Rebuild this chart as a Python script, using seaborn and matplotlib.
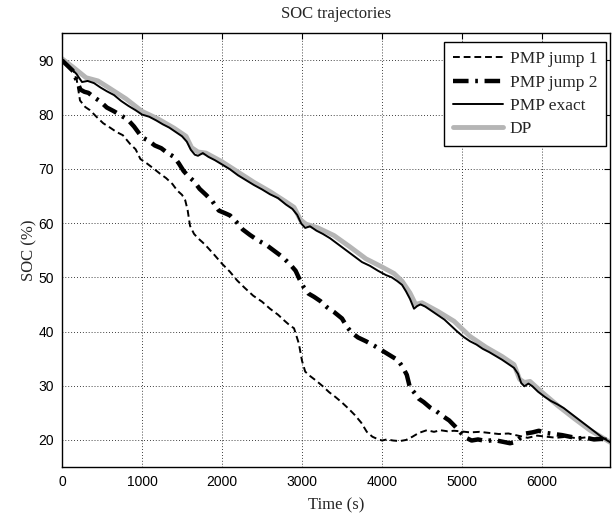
import numpy as np
import pandas as pd
import matplotlib
matplotlib.use("Agg")
import matplotlib.pyplot as plt
import seaborn as sns

# SOC trajectories
t_exact = [0, 60, 120, 180, 250, 320, 400, 480, 560, 650,
           740, 830, 920, 1000, 1090, 1180, 1260, 1340, 1420, 1500,
           1560, 1610, 1660, 1700, 1760, 1830, 1910, 2000, 2100, 2200,
           2300, 2400, 2500, 2600, 2700, 2800, 2880, 2940, 2990, 3040,
           3100, 3180, 3260, 3350, 3450, 3550, 3650, 3750, 3850, 3950,
           4050, 4120, 4190, 4250, 4300, 4350, 4400, 4440, 4480, 4540,
           4620, 4700, 4780, 4860, 4940, 5020, 5100, 5180, 5260, 5340,
           5420, 5500, 5580, 5650, 5700, 5740, 5780, 5830, 5880, 5950,
           6030, 6110, 6190, 6270, 6350, 6430, 6510, 6590, 6670, 6750,
           6850]
soc_exact = [90, 89.2, 88.4, 87.5, 86.0, 86.2, 85.8, 85.0, 84.3, 83.6,
             82.5, 81.6, 80.8, 80.0, 79.6, 78.9, 78.2, 77.6, 76.8, 76.0,
             75.0, 73.5, 72.6, 72.4, 72.9, 72.2, 71.6, 70.8, 69.9, 68.8,
             67.9, 67.0, 66.2, 65.3, 64.6, 63.4, 62.6, 61.5, 59.9, 59.1,
             59.4, 58.6, 58.0, 57.2, 56.1, 55.0, 53.9, 52.8, 52.1, 51.2,
             50.4, 50.0, 49.3, 48.6, 47.4, 46.0, 44.2, 44.7, 45.0, 44.6,
             43.8, 43.0, 42.2, 41.1, 40.0, 39.0, 38.2, 37.6, 36.8, 36.2,
             35.5, 34.8, 34.0, 33.3, 32.2, 30.5, 29.9, 30.4, 29.9, 28.9,
             28.0, 27.2, 26.6, 25.9, 25.0, 24.1, 23.2, 22.3, 21.4, 20.5,
             19.6]

t_dp = [0, 150, 300, 450, 600, 800, 1000, 1200, 1400, 1550,
        1620, 1700, 1800, 2000, 2200, 2400, 2600, 2800, 2900, 2980,
        3050, 3200, 3400, 3600, 3800, 4000, 4150, 4250, 4350, 4420,
        4500, 4700, 4900, 5100, 5300, 5500, 5650, 5720, 5780, 5850,
        6000, 6200, 6400, 6600, 6850]
soc_dp = [90.3, 88.6, 86.8, 86.2, 84.8, 82.9, 80.6, 79.2, 77.5, 76.0,
          73.9, 73.1, 72.9, 71.3, 69.4, 67.5, 65.8, 63.9, 62.9, 60.6,
          59.8, 59.1, 57.7, 55.6, 53.4, 51.9, 50.7, 49.3, 47.1, 45.0,
          45.3, 43.7, 41.9, 39.1, 37.1, 35.4, 33.9, 31.2, 30.6, 30.8,
          28.8, 26.3, 24.0, 21.8, 19.6]

t_jump2 = [0, 70, 140, 190, 230, 280, 330, 400, 480, 560,
           650, 740, 820, 900, 1000, 1080, 1160, 1240, 1320, 1400,
           1460, 1520, 1580, 1650, 1720, 1800, 1880, 1960, 2040, 2100,
           2180, 2260, 2350, 2450, 2550, 2650, 2750, 2850, 2920, 2970,
           3020, 3080, 3150, 3230, 3310, 3400, 3500, 3560, 3620, 3700,
           3800, 3900, 4000, 4100, 4200, 4260, 4310, 4350, 4400, 4460,
           4520, 4600, 4680, 4760, 4840, 4920, 4980, 5050, 5120, 5200,
           5300, 5400, 5500, 5600, 5660, 5720, 5800, 5880, 5960, 6050,
           6150, 6250, 6350, 6450, 6550, 6650, 6750, 6850]
soc_jump2 = [90, 89.0, 88.0, 86.0, 84.6, 84.2, 84.0, 83.2, 82.4, 81.3,
             80.6, 79.8, 79.1, 77.8, 75.8, 75.2, 74.3, 73.8, 72.9, 72.2,
             71.0, 69.6, 68.6, 67.7, 66.3, 65.2, 64.0, 62.3, 61.8, 61.4,
             60.2, 58.8, 57.8, 56.8, 56.0, 54.9, 53.8, 52.4, 51.2, 49.6,
             48.2, 47.0, 46.4, 45.6, 44.5, 43.6, 42.4, 40.9, 39.8, 38.9,
             38.2, 37.4, 36.5, 35.6, 34.7, 33.4, 32.0, 29.6, 28.8, 27.6,
             27.0, 26.0, 25.3, 24.4, 23.6, 22.4, 21.4, 20.4, 19.9, 20.1,
             19.8, 20.0, 19.7, 19.4, 19.6, 20.3, 21.2, 21.4, 21.7, 21.3,
             21.1, 20.9, 20.6, 20.3, 20.4, 20.1, 20.2, 19.8]

t_jump1 = [0, 70, 140, 185, 225, 290, 350, 430, 515, 600,
           680, 760, 850, 920, 980, 1060, 1140, 1225, 1300, 1380,
           1440, 1500, 1540, 1570, 1600, 1650, 1700, 1760, 1820, 1900,
           2000, 2100, 2190, 2280, 2390, 2500, 2600, 2700, 2780, 2850,
           2900, 2930, 2960, 3000, 3040, 3100, 3180, 3260, 3340, 3420,
           3500, 3580, 3660, 3740, 3810, 3880, 3940, 4000, 4060, 4140,
           4220, 4300, 4380, 4460, 4560, 4650, 4730, 4820, 4900, 4980,
           5100, 5220, 5340, 5460, 5580, 5700, 5820, 5940, 6060, 6180,
           6310, 6440, 6560, 6680, 6850]
soc_jump1 = [90, 89.0, 88.2, 86.3, 82.6, 81.4, 80.8, 79.6, 78.4, 77.6,
             76.8, 76.2, 74.6, 73.6, 71.8, 71.0, 70.1, 69.1, 68.3, 67.2,
             66.0, 65.2, 64.2, 62.4, 59.5, 58.0, 57.2, 56.4, 55.5, 54.2,
             52.5, 51.0, 49.4, 48.1, 46.6, 45.5, 44.2, 43.1, 42.0, 41.1,
             40.6, 39.2, 37.8, 34.6, 32.6, 31.8, 30.9, 29.9, 28.8, 27.9,
             26.9, 25.8, 24.6, 23.2, 21.5, 20.6, 20.2, 19.9, 20.1, 19.9,
             19.8, 20.0, 20.6, 21.3, 21.8, 21.5, 21.8, 21.6, 21.7, 21.6,
             21.4, 21.5, 21.3, 21.1, 21.2, 20.8, 20.4, 20.8, 20.6, 20.4,
             20.6, 20.3, 20.5, 20.2, 20.3]

x_ticks = [0, 1000, 2000, 3000, 4000, 5000, 6000]
y_ticks = [20, 30, 40, 50, 60, 70, 80, 90]

sns.set_style("white")
plt.rcParams['font.family'] = ['Liberation Sans', 'DejaVu Sans']
serif = ['Liberation Serif', 'DejaVu Serif']

fig = plt.figure(figsize=(6.14, 5.19), dpi=100)
ax = fig.add_axes([0.101, 0.100, 0.8925, 0.836])

# DP underneath, then the PMP curves
sns.lineplot(x=t_dp, y=soc_dp, ax=ax, color='#b5b5b5', linewidth=3.5, label='DP', zorder=2)
sns.lineplot(x=t_jump1, y=soc_jump1, ax=ax, color='black', linewidth=1.4,
             linestyle=(0, (3.5, 2)), label='PMP jump 1', zorder=3)
sns.lineplot(x=t_jump2, y=soc_jump2, ax=ax, color='black', linewidth=3.2,
             linestyle=(0, (3.5, 1.5, 0.6, 1.5)), label='PMP jump 2', zorder=3)
sns.lineplot(x=t_exact, y=soc_exact, ax=ax, color='black', linewidth=1.4,
             label='PMP exact', zorder=4)

ax.set_xlim(0, 6850)
ax.set_ylim(15, 95)
ax.set_xticks(x_ticks)
ax.set_yticks(y_ticks)
ax.tick_params(direction='in', length=4, width=0.8, top=True, right=True,
               labelsize=10, colors='black', pad=6)
ax.grid(True, color='black', linestyle=(0, (1, 2.5)), linewidth=0.6)
for sp in ax.spines.values():
    sp.set_visible(True)
    sp.set_color('black')
    sp.set_linewidth(1.0)

ax.set_title('SOC trajectories', family=serif, fontsize=12, pad=11)
ax.set_xlabel('Time (s)', family=serif, fontsize=12, labelpad=6)
ax.set_ylabel('SOC (%)', family=serif, fontsize=12, labelpad=0.5)

handles, labels = ax.get_legend_handles_labels()
order = [labels.index(n) for n in ['PMP jump 1', 'PMP jump 2', 'PMP exact', 'DP']]
leg = ax.legend([handles[i] for i in order], [labels[i] for i in order],
                loc='upper right', bbox_to_anchor=(0.9927, 0.979),
                prop={'family': serif, 'size': 12.5},
                fancybox=False, framealpha=1, edgecolor='black',
                handlelength=2.9, handletextpad=0.4, borderaxespad=0,
                borderpad=0.5, labelspacing=0.42)
leg.get_frame().set_linewidth(1.0)

fig.savefig('out.png', dpi=100)
